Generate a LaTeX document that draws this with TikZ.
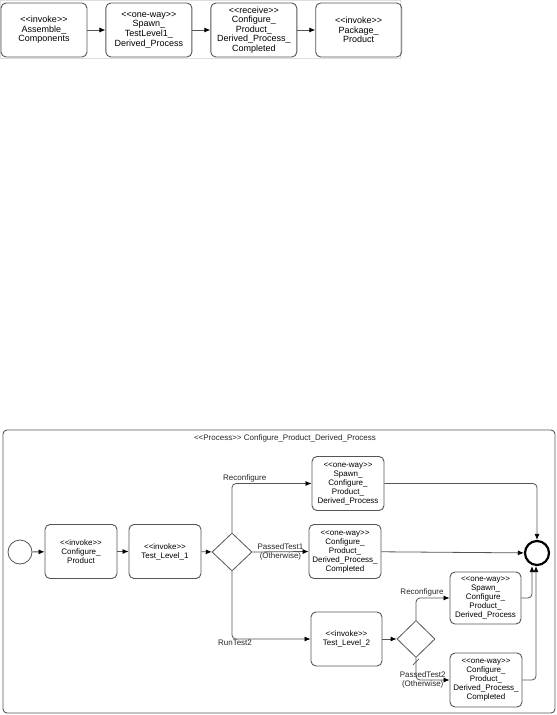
\documentclass[tikz,border=0pt]{standalone}
\usepackage{fontspec}
\setmainfont{Liberation Sans}
\usetikzlibrary{shapes.geometric,arrows.meta,positioning}
\definecolor{ln}{RGB}{85,85,85}

\begin{document}
\begin{tikzpicture}[
  x=1pt, y=-1pt, node distance=18pt,
  font=\fontsize{8}{9}\selectfont,
  box/.style={draw=ln, line width=0.9pt, rounded corners=5pt, align=center,
              minimum width=72pt, minimum height=54pt, inner sep=1pt,
              execute at end node={\\[3pt]\mbox{}}},
  topbox/.style={box, minimum width=86pt, font=\fontsize{9}{9.6}\selectfont},
  gate/.style={draw=ln, line width=0.8pt, diamond, minimum width=40pt,
               minimum height=38pt, inner sep=0pt},
  ev/.style={draw=ln, line width=0.8pt, circle, minimum size=24pt, inner sep=0pt},
  ar/.style={-{Latex[length=6pt,width=5pt,black]}, ln, line width=0.8pt, rounded corners=4pt},
  lab/.style={inner sep=1pt, align=center, text=black!85}]
  \useasboundingbox (0,0) rectangle (557,715);

  % top sequence
  \draw[gray!25] (0.5,0.5) rectangle (400,58);
  \node[topbox] (asm) at (44,30) {<{}<invoke>{}>\\Assemble\_\\Components};
  \node[topbox, right=of asm] (spw) {<{}<one-way>{}>\\Spawn\_\\TestLevel1\_\\Derived\_Process};
  \node[topbox, right=of spw] (rcv) {<{}<receive>{}>\\Configure\_\\Product\_\\Derived\_Process\_\\Completed};
  \node[topbox, right=of rcv] (pkg) {<{}<invoke>{}>\\Package\_\\Product};
  \foreach \i/\j in {asm/spw, spw/rcv, rcv/pkg} \draw[ar] (\i) -- (\j);

  % process
  \draw[ln, line width=0.9pt, rounded corners=4pt] (3,430) rectangle (555,713);
  \node[lab] (title) at (285,438) {<{}<Process>{}> Configure\_Product\_Derived\_Process};

  \node[ev] (start) at (20,552) {};
  \node[box] (cfg) at (81,551.5) {<{}<invoke>{}>\\Configure\_\\Product};
  \node[box] (tl1) at (165,551.5) {<{}<invoke>{}>\\Test\_Level\_1};
  \node[gate] (g1) at (232,552) {};
  \node[box] (sp1) at (348,483.5) {<{}<one-way>{}>\\Spawn\_\\Configure\_\\Product\_\\Derived\_Process};
  \node[box] (cp1) at (345,551.5) {<{}<one-way>{}>\\Configure\_\\Product\_\\Derived\_Process\_\\Completed};
  \node[ev, line width=2.2pt, draw=black] (stop) at (537,553) {};
  \node[box, minimum width=71pt] (tl2) at (346.5,639) {<{}<invoke>{}>\\Test\_Level\_2};
  \node[gate, minimum width=38pt, minimum height=37pt] (g2) at (416,639) {};
  \node[box, minimum width=71pt, minimum height=52pt] (sp2) at (485.5,598) {<{}<one-way>{}>\\Spawn\_\\Configure\_\\Product\_\\Derived\_Process};
  \node[box] (cp2) at (486,680) {<{}<one-way>{}>\\Configure\_\\Product\_\\Derived\_Process\_\\Completed};

  \foreach \i/\j in {start/cfg, cfg/tl1, tl1/g1, tl2/g2, cp1/stop} \draw[ar] (\i) -- (\j);
  \draw[ar] (g1.north) |- node[lab, pos=0.58, above] {Reconfigure} (sp1.west);
  \draw[ar] (g1.east) -- node[lab, midway] {PassedTest1\\(Otherwise)} (cp1.west);
  \draw[ar] (g1.south) |- node[lab, pos=0.5, below, xshift=3pt] {RunTest2} (tl2.west);
  \draw[ar] (sp1.east) -| (stop.north);
  \draw[ar] (g2.north) |- node[lab, pos=0.59, above] {Reconfigure} (sp2.west);
  \draw[ar] (g2.south) |- node[lab, pos=0.6] {PassedTest2\\(Otherwise)} (cp2.west);
  \draw[ln, line width=0.8pt] ([shift={(-3,7)}]g2.south) -- ++(6,-6);
  \draw[ar] (sp2.east) -| ([xshift=-5pt]stop.south);
  \draw[ar] (cp2.east) -| ([xshift=-1pt]stop.south);
\end{tikzpicture}
\end{document}
